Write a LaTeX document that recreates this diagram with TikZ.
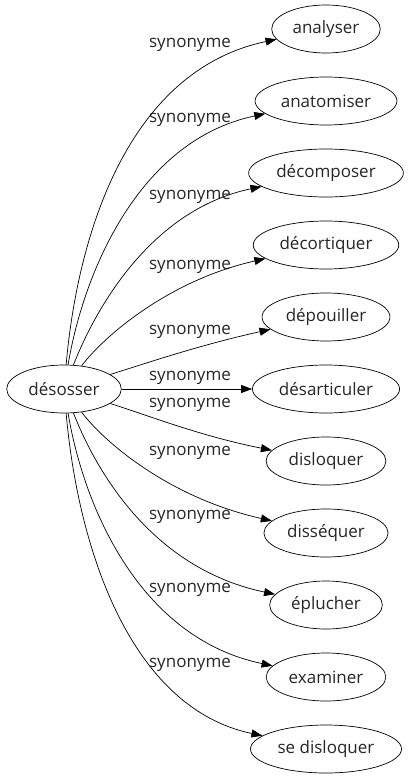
\documentclass[tikz,border=0pt]{standalone}
\usepackage{fontspec}
\setmainfont{Open Sans}
\usetikzlibrary{arrows.meta,shapes.geometric}

\begin{document}
\begin{tikzpicture}[x=1pt,y=-1pt,line width=0.7,
  motnode/.style={draw,ellipse,minimum height=48,inner xsep=5,text=black!85,font=\fontsize{17}{20}\selectfont},
  synlabel/.style={text=black!85,font=\fontsize{17}{20}\selectfont},
  synedge/.style={-{Triangle[length=11,width=8]}}]
\useasboundingbox (0,0) rectangle (409,779);
\node[motnode] (desosser) at (64,389) {désosser};
  \foreach \nom/\mot/\i in {analyser/analyser/0,anatomiser/anatomiser/1,decomposer/décomposer/2,
    decortiquer/décortiquer/3,depouiller/dépouiller/4,desarticuler/désarticuler/5,disloquer/disloquer/6,
    dissequer/disséquer/7,eplucher/éplucher/8,examiner/examiner/9,sedisloquer/se disloquer/10}
  {  \node[motnode] (\nom) at (326,29+72*\i) {\mot};}
  \foreach \y [count=\i] in {45,120,197,267,332,378,405,453,517,590,665}
  {  \node[synlabel] (syn\i) at (190,\y) {synonyme};}
  \foreach \nom/\ax/\ay/\bx/\by in {analyser/78/230/130/70,anatomiser/84/270/140/140,
    decomposer/95/310/150/210,decortiquer/105/335/170/280,depouiller/150/362/200/345,
    disloquer/150/416/200/436,dissequer/105/443/170/498,eplucher/95/468/150/568,
    examiner/84/508/140/638,sedisloquer/78/548/130/708}
  {  \draw[synedge] (desosser) .. controls (\ax,\ay) and (\bx,\by) .. (\nom);}
\draw[synedge] (desosser) -- (desarticuler);
\end{tikzpicture}
\end{document}
